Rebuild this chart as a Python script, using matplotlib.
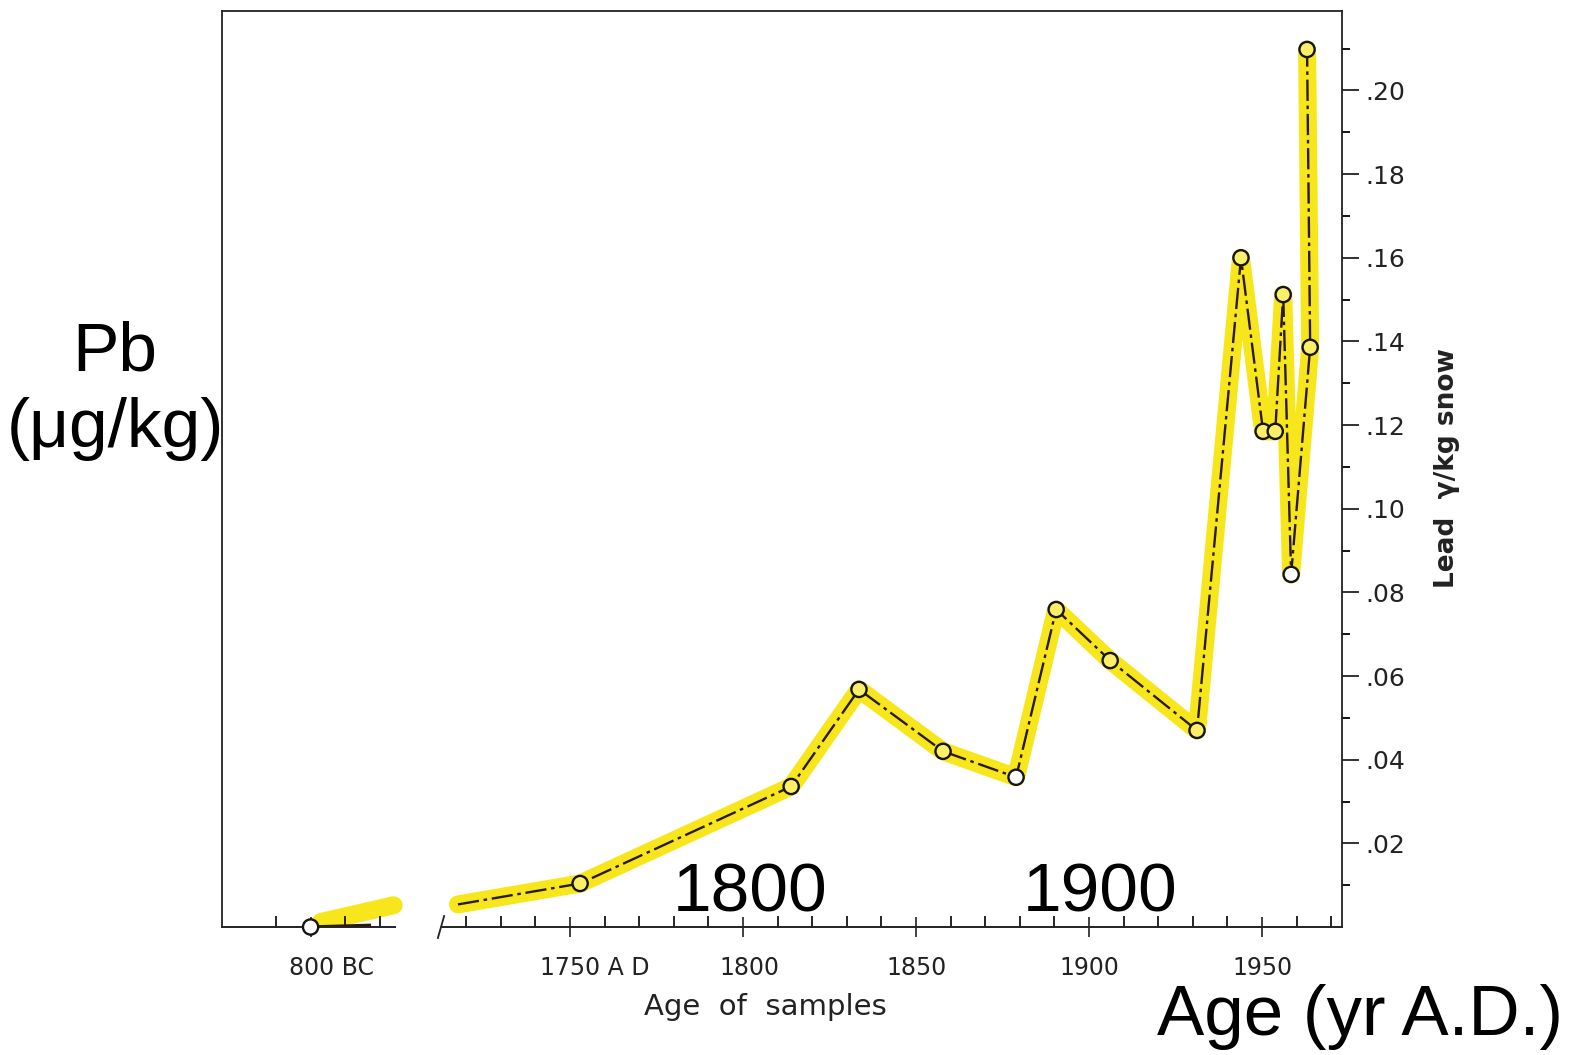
import numpy as np
from matplotlib import pyplot as plt
from matplotlib.transforms import ScaledTranslation

# lead in Greenland snow, gamma / kg snow
bc_years = [-800, -783]
bc_lead = [0.0, 0.0004]
bc_glow_years = [-797, -776]
bc_glow_lead = [0.0012, 0.0052]

ad_years = [1717.6, 1752.9, 1813.9, 1833.5, 1857.8, 1878.9, 1890.5, 1906.1,
            1931.2, 1943.9, 1950.3, 1953.8, 1956.1, 1958.4, 1963.9, 1963.0]
ad_lead = [0.0054, 0.0104, 0.0336, 0.0568, 0.0420, 0.0358, 0.0759, 0.0637,
           0.0470, 0.1600, 0.1185, 0.1185, 0.1512, 0.0843, 0.1386, 0.2098]
ad_sampled = [False] + [True] * 15   # first point is only where the line starts

y_ticks = [0.02, 0.04, 0.06, 0.08, 0.10, 0.12, 0.14, 0.16, 0.18, 0.20]
y_labels = ['.02', '.04', '.06', '.08', '.10', '.12', '.14', '.16', '.18', '.20']
x_ticks_ad = [1750, 1800, 1850, 1900, 1950]
x_labels = ['800 BC', '1750 A D', '1800', '1850', '1900', '1950']

# the BC part sits on its own stub of the axis, left of the break
BC_SHIFT = 2475.0
BC_END = -775.5
AD_START = 1713.0


def to_axis(year):
    return year + BC_SHIFT if year < 0 else year


HL = '#f8e61c'
INK = '#2a1a12'
W, H = 1575, 1055

fig = plt.figure(figsize=(W / 100, H / 100), dpi=100)
fig.patch.set_facecolor('white')
ax = fig.add_axes([222 / W, 1 - 927 / H, (1342 - 222) / W, (927 - 11) / H])
ax.set_xlim(1649.4, 1973.1)
ax.set_ylim(0, 0.219)

# yellow marker-pen highlight underneath
bx = [to_axis(y) for y in bc_glow_years]
ax.plot(bx, bc_glow_lead, color=HL, lw=13, solid_capstyle='round', zorder=1)
ax.plot(ad_years[:-1], ad_lead[:-1], color=HL, lw=13, solid_capstyle='round',
        solid_joinstyle='round', zorder=1)
ax.plot(ad_years[-2:], ad_lead[-2:], color=HL, lw=13, solid_capstyle='round', zorder=1)

# original inked line
ax.plot([to_axis(y) for y in bc_years], bc_lead, color=INK, lw=2.4, zorder=2)
ax.plot(ad_years, ad_lead, color=INK, lw=1.7, ls=(0, (9, 2, 1.5, 2)), zorder=2)

# sample circles
white_pts = {1878.9, 1958.4}
xs = [to_axis(bc_years[0])] + [y for y, s in zip(ad_years, ad_sampled) if s]
ys = [bc_lead[0]] + [v for v, s in zip(ad_lead, ad_sampled) if s]
fills = ['white'] + ['white' if y in white_pts else '#fbef6a' for y in xs[1:]]
ax.scatter(xs, ys, s=120, facecolors=fills, edgecolors='#151515', linewidths=1.7,
           zorder=3, clip_on=False)

# frame: left and top plain, right carries the scale, bottom is broken
for side in ['left', 'top', 'right']:
    ax.spines[side].set_color('#222222')
    ax.spines[side].set_linewidth(1.3)
ax.spines['bottom'].set_visible(False)
xt = ax.get_xaxis_transform()
ax.plot([1649.4, to_axis(BC_END)], [0, 0], color='#222222', lw=1.4,
        transform=xt, clip_on=False)
ax.plot([AD_START, 1973.1], [0, 0], color='#222222', lw=1.4,
        transform=xt, clip_on=False)
ax.plot([AD_START - 1.2, AD_START + 0.6], [-0.012, 0.012], color='#222222',
        lw=1.3, transform=xt, clip_on=False)

ax.yaxis.tick_right()
ax.set_yticks(y_ticks)
ax.set_yticklabels(y_labels)
ax.set_yticks(np.arange(0.01, 0.215, 0.02), minor=True)
ax.tick_params(axis='y', which='major', direction='out', length=12, width=1.3,
               pad=5, labelsize=18, colors='#222222')
ax.tick_params(axis='y', which='minor', direction='out', length=6, width=1.3)

ax.set_xticks([to_axis(-800)] + x_ticks_ad)
ax.set_xticklabels(x_labels)
minor_x = [to_axis(y) for y in [-810, -790, -780]] + \
    [y for y in range(1720, 1971, 10) if y % 50 != 0]
ax.set_xticks(minor_x, minor=True)
ax.tick_params(axis='x', which='major', direction='inout', length=14, width=1.2,
               pad=14, labelsize=17, colors='#222222')
ax.tick_params(axis='x', which='minor', direction='in', length=8, width=1.2)
lbls = ax.get_xticklabels()
for lab, dx in zip(lbls, [21, 25, 6, 0, 0, 0]):
    lab.set_transform(lab.get_transform() + ScaledTranslation(dx / 100, 0, fig.dpi_scale_trans))

fig.text(765 / W, 1 - 1007 / H, 'Age  of  samples', ha='center', va='center',
         fontsize=21, color='#222222')
fig.text(1447 / W, 1 - 468 / H, 'Lead  γ/kg snow', ha='center', va='center',
         rotation=90, fontsize=19, fontweight='bold', color='#222222')

# slide annotations on top of the scan
big = dict(family='Liberation Sans', color='black', ha='center', va='baseline')
fig.text(115 / W, 1 - 370 / H, 'Pb', fontsize=50, **big)
fig.text(115 / W, 1 - 447 / H, '(μg/kg)', fontsize=50, **big)
fig.text(750 / W, 1 - 912 / H, '1800', fontsize=50, **big)
fig.text(1100 / W, 1 - 912 / H, '1900', fontsize=50, **big)
fig.text(1360 / W, 1 - 1035 / H, 'Age (yr A.D.)', fontsize=51, **big)

fig.savefig('out.png', dpi=100)
